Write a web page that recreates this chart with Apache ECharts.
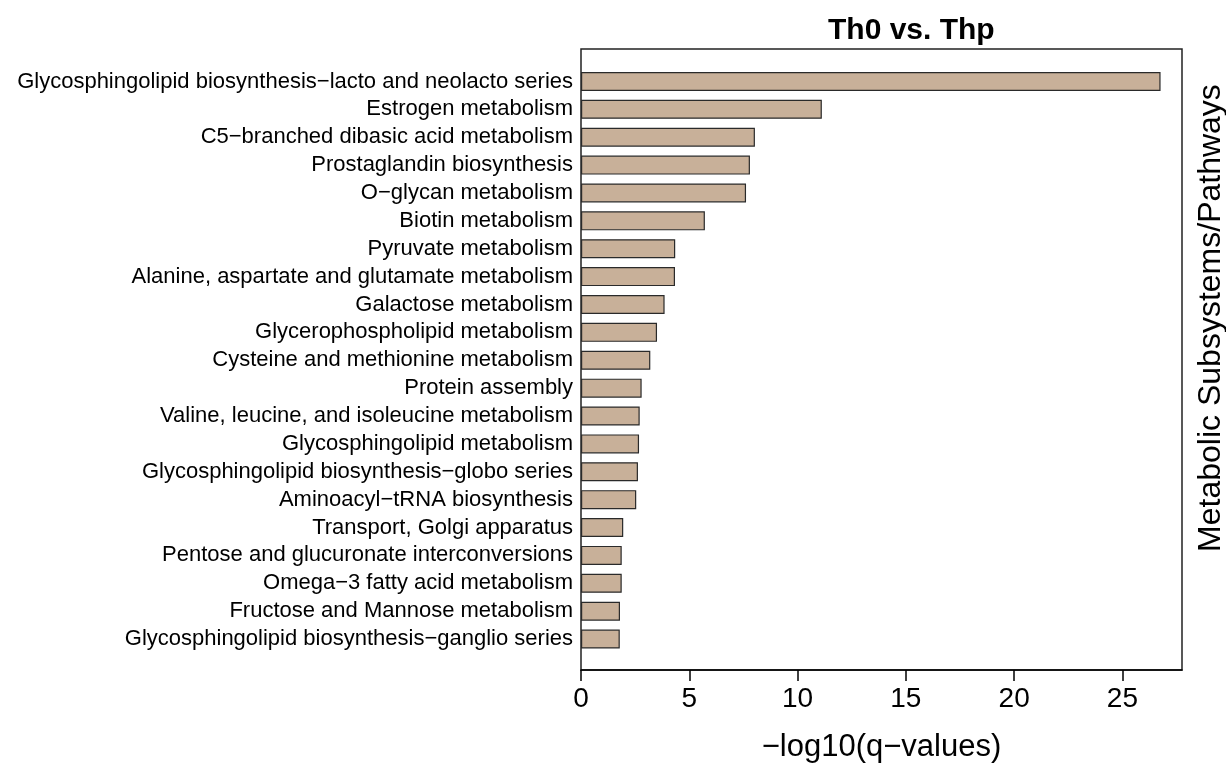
<!DOCTYPE html>
<html>
<head>
<meta charset="utf-8">
<script src="https://cdn.jsdelivr.net/npm/echarts@6/dist/echarts.min.js"></script>
<style>
  html, body { margin: 0; padding: 0; background: #fff; }
  #chart { width: 1226px; height: 763px; }
</style>
</head>
<body>
<div id="chart"></div>
<script>
// Enriched pathways, listed top to bottom
const pathways = [
  'Glycosphingolipid biosynthesis\u2212lacto and neolacto series',
  'Estrogen metabolism',
  'C5\u2212branched dibasic acid metabolism',
  'Prostaglandin biosynthesis',
  'O\u2212glycan metabolism',
  'Biotin metabolism',
  'Pyruvate metabolism',
  'Alanine, aspartate and glutamate metabolism',
  'Galactose metabolism',
  'Glycerophospholipid metabolism',
  'Cysteine and methionine metabolism',
  'Protein assembly',
  'Valine, leucine, and isoleucine metabolism',
  'Glycosphingolipid metabolism',
  'Glycosphingolipid biosynthesis\u2212globo series',
  'Aminoacyl\u2212tRNA biosynthesis',
  'Transport, Golgi apparatus',
  'Pentose and glucuronate interconversions',
  'Omega\u22123 fatty acid metabolism',
  'Fructose and Mannose metabolism',
  'Glycosphingolipid biosynthesis\u2212ganglio series'
];

// -log10(q) for each pathway
const negLogQ = [
  26.76, 11.12, 8.03, 7.80, 7.62, 5.72, 4.35, 4.34, 3.86, 3.51, 3.20,
  2.80, 2.71, 2.68, 2.63, 2.55, 1.95, 1.88, 1.88, 1.80, 1.79
];

const xTicks = [0, 5, 10, 15, 20, 25];
const xMax = 27.75;

const chartTitle = 'Th0 vs. Thp';
const xTitle = '\u2212log10(q\u2212values)';
const yTitle = 'Metabolic Subsystems/Pathways';

const FONT = '"Liberation Sans", Arial, Helvetica, sans-serif';

const chart = echarts.init(document.getElementById('chart'), null, { renderer: 'canvas' });

chart.setOption({
  animation: false,
  backgroundColor: '#ffffff',
  title: {
    text: chartTitle,
    left: 823,
    top: 11,
    textStyle: { fontFamily: FONT, fontSize: 30, fontWeight: 'bold', color: '#000' }
  },
  grid: [
    // frame + x axis
    {
      left: 581, right: 44, top: 49, bottom: 93,
      outerBoundsMode: 'none', containLabel: false,
      show: true, borderColor: '#222', borderWidth: 1.5, backgroundColor: 'transparent'
    },
    // bar area
    { left: 581, right: 44, top: 67.5, bottom: 110, outerBoundsMode: 'none', containLabel: false }
  ],
  xAxis: [
    {
      gridIndex: 0,
      type: 'value',
      min: 0,
      max: xMax,
      interval: 5,
      splitLine: { show: false },
      axisLine: { show: true, lineStyle: { color: '#000', width: 1.5 } },
      axisTick: { show: true, length: 11, customValues: xTicks, lineStyle: { color: '#000', width: 1.5 } },
      axisLabel: {
        customValues: xTicks,
        margin: 15,
        fontFamily: FONT, fontSize: 28, color: '#000'
      },
      name: xTitle,
      nameLocation: 'middle',
      nameGap: 62,
      nameTextStyle: { fontFamily: FONT, fontSize: 31, color: '#000' }
    },
    {
      gridIndex: 1,
      type: 'value',
      min: 0,
      max: xMax,
      show: false
    }
  ],
  yAxis: [
    { gridIndex: 0, type: 'value', min: 0, max: 1, show: false },
    {
      gridIndex: 1,
      type: 'category',
      data: pathways,
      inverse: true,
      axisLine: { show: false },
      axisTick: { show: false },
      axisLabel: { interval: 0, margin: 8, fontFamily: FONT, fontSize: 22, color: '#000' }
    }
  ],
  series: [
    {
      type: 'bar',
      xAxisIndex: 1,
      yAxisIndex: 1,
      data: negLogQ,
      barWidth: 19,
      itemStyle: { color: '#c8b099', borderColor: '#2a2a2a', borderWidth: 1.2 }
    }
  ],
  graphic: [
    {
      type: 'text',
      x: 1211,
      y: 318,
      rotation: Math.PI / 2,
      style: {
        text: yTitle,
        fontFamily: FONT,
        fontSize: 32,
        fill: '#000',
        align: 'center',
        verticalAlign: 'middle'
      }
    }
  ]
});
</script>
</body>
</html>
